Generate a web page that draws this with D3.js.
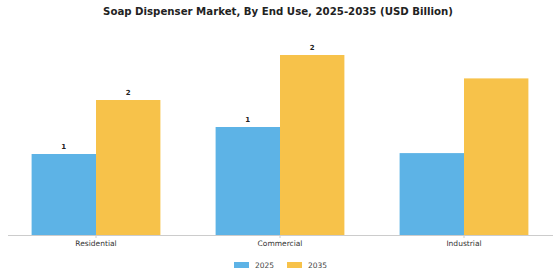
<!doctype html>
<html>
<head>
<meta charset="utf-8">
<title>Soap Dispenser Market</title>
<script src="https://d3js.org/d3.v7.min.js"></script>
<style>
  body { margin: 0; background: #fff; }
  svg { display: block; font-family: "DejaVu Sans", sans-serif; }
</style>
</head>
<body>
<div id="chart"></div>
<script>
// data
var categories = ["Residential", "Commercial", "Industrial"];
var years = ["2025", "2035"];
var values2025 = [0.9, 1.2, 0.91];
var values2035 = [1.5, 2.0, 1.74];
var showLabel = [true, true, false];
var colors = ["#5DB3E6", "#F7C24A"];

var width = 560, height = 280;
var baseline = 235;

var svg = d3.select("#chart").append("svg")
  .attr("width", width)
  .attr("height", height);

// title
svg.append("text")
  .attr("x", 278)
  .attr("y", 15)
  .attr("text-anchor", "middle")
  .attr("font-size", 10.2)
  .attr("font-weight", "bold")
  .attr("fill", "#222")
  .text("Soap Dispenser Market, By End Use, 2025-2035 (USD Billion)");

var x0 = d3.scaleBand()
  .domain(categories)
  .range([4, 556])
  .paddingInner(0.3)
  .paddingOuter(0.15);

var x1 = d3.scaleBand()
  .domain(years)
  .range([0, x0.bandwidth()]);

var y = d3.scaleLinear()
  .domain([0, 2.2])
  .range([baseline, baseline - 198]);

var rows = categories.map(function(c, i) {
  return { cat: c, vals: [values2025[i], values2035[i]], label: showLabel[i] };
});

var groups = svg.selectAll(".grp")
  .data(rows)
  .enter().append("g")
  .attr("class", "grp")
  .attr("transform", function(d) { return "translate(" + x0(d.cat) + ",0)"; });

groups.selectAll("rect")
  .data(function(d) { return d.vals.map(function(v, j) { return { year: years[j], v: v, j: j }; }); })
  .enter().append("rect")
  .attr("x", function(d) { return x1(d.year); })
  .attr("y", function(d) { return y(d.v); })
  .attr("width", x1.bandwidth())
  .attr("height", function(d) { return baseline - y(d.v); })
  .attr("fill", function(d) { return colors[d.j]; });

groups.filter(function(d) { return d.label; })
  .selectAll(".lbl")
  .data(function(d) { return d.vals.map(function(v, j) { return { year: years[j], v: v }; }); })
  .enter().append("text")
  .attr("class", "lbl")
  .attr("x", function(d) { return x1(d.year) + x1.bandwidth() / 2; })
  .attr("y", function(d) { return y(d.v) - 5; })
  .attr("text-anchor", "middle")
  .attr("font-size", 7)
  .attr("font-weight", "bold")
  .attr("fill", "#222")
  .text(function(d) { return d3.format(".0f")(d.v); });

// x axis
var axis = svg.append("g")
  .attr("transform", "translate(0," + baseline + ")")
  .call(d3.axisBottom(x0).tickSize(3).tickSizeOuter(0));
axis.select(".domain").attr("stroke", "#ccc").attr("d", "M8,0.5H553");
axis.selectAll(".tick line").attr("stroke", "#ccc");
axis.selectAll(".tick text")
  .attr("font-family", "DejaVu Sans, sans-serif")
  .attr("font-size", 7.5)
  .attr("fill", "#333")
  .attr("dy", "0.6em");

// legend
var legend = svg.append("g").attr("transform", "translate(234,262)");
var legX = [0, 53];
years.forEach(function(yr, j) {
  var g = legend.append("g").attr("transform", "translate(" + legX[j] + ",0)");
  g.append("rect").attr("width", 15).attr("height", 6).attr("fill", colors[j]);
  g.append("text")
    .attr("x", 21)
    .attr("y", 6)
    .attr("font-size", 7.5)
    .attr("fill", "#444")
    .text(yr);
});
</script>
</body>
</html>
